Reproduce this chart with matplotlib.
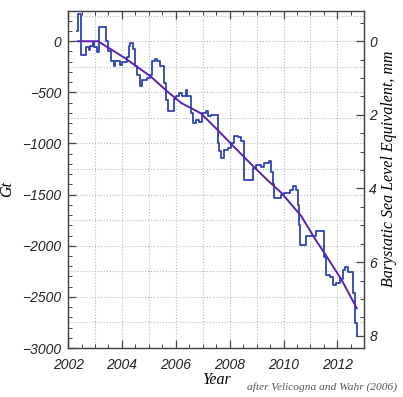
import numpy as np
import matplotlib
matplotlib.use('Agg')
import matplotlib.pyplot as plt
from matplotlib.ticker import MultipleLocator

# GRACE monthly mass change (Gt), step edges
step_x = [2002.34, 2002.35, 2002.49, 2002.67, 2002.76, 2002.82, 2002.92, 2002.98,
          2003.07, 2003.16, 2003.42, 2003.50, 2003.60, 2003.69, 2003.75, 2003.91,
          2004.00, 2004.19, 2004.25, 2004.31, 2004.41, 2004.50, 2004.56, 2004.66,
          2004.75, 2004.94, 2005.05, 2005.12, 2005.21, 2005.31, 2005.43, 2005.56,
          2005.64, 2005.72, 2005.92, 2006.00, 2006.12, 2006.24, 2006.37, 2006.43,
          2006.55, 2006.62, 2006.74, 2006.87, 2006.99, 2007.12, 2007.20, 2007.30,
          2007.57, 2007.62, 2007.67, 2007.80, 2007.92, 2008.05, 2008.17, 2008.30,
          2008.42, 2008.54, 2008.85, 2008.98, 2009.17, 2009.29, 2009.45, 2009.54,
          2009.60, 2009.66, 2009.91, 2010.00, 2010.12, 2010.25, 2010.35, 2010.47,
          2010.53, 2010.59, 2010.62, 2010.84, 2011.22, 2011.50, 2011.59, 2011.71,
          2011.84, 2011.96, 2012.09, 2012.21, 2012.27, 2012.40, 2012.59, 2012.65,
          2012.71]
step_gt = [100, 265, -137, -59, -90, -45, -10, -60,
           -110, 140, 0, -100, -196, -245, -196, -230,
           -200, -150, -49, -20, -80, -245, -326, -434,
           -375, -360, -330, -196, -172, -196, -245, -406,
           -571, -686, -560, -539, -510, -539, -473, -540,
           -700, -800, -770, -790, -701, -686, -734, -718,
           -995, -1077, -1142, -1061, -1045, -995, -924, -940,
           -975, -1354, -1240, -1208, -1225, -1191, -1175, -1275,
           -1400, -1534, -1505, -1480, -1485, -1452, -1420, -1452,
           -1600, -1800, -1991, -1909, -1854, -2106, -2285, -2310,
           -2383, -2366, -2330, -2236, -2203, -2252, -2464, -2760,
           -2885]

# smooth fit (Gt)
fit_x = [2002.35, 2003.10, 2003.60, 2004.10, 2005.06, 2005.68, 2006.20, 2006.93,
         2007.55, 2008.17, 2008.79, 2009.41, 2009.91, 2010.66, 2011.15, 2011.59,
         2012.15, 2012.72]
fit_gt = [0, 0, -80, -163, -343, -490, -604, -705,
          -867, -1035, -1200, -1360, -1480, -1710, -1925, -2100,
          -2330, -2611]

gt_per_mm = 360.0  # Gt of ice per mm of sea level

fig = plt.figure(figsize=(4.03, 3.97), dpi=100)
ax = fig.add_axes([0.169, 0.1234, 0.735, 0.850])

tick_font = dict(family='Liberation Sans', style='italic', size=10)
label_font = dict(family='Liberation Serif', style='italic', size=11.5)

# dotted grid: every year / every 250 Gt
for yr in range(2003, 2013):
    ax.axvline(yr, color='#b8b8b8', ls=':', lw=0.8, zorder=0)
for g in np.arange(-2750, 300, 250):
    ax.axhline(g, color='#b8b8b8', ls=':', lw=0.8, zorder=0)

ax.step(step_x, step_gt, where='post', color='#2f43b3', lw=1.3, zorder=2)
ax.plot(fit_x, fit_gt, color='#5a22b0', lw=1.4, zorder=3)

ax.set_xlim(2002, 2013)
ax.set_ylim(-3000, 300)
ax.xaxis.set_major_locator(MultipleLocator(2))
ax.xaxis.set_minor_locator(MultipleLocator(0.5))
ax.yaxis.set_major_locator(MultipleLocator(500))
ax.yaxis.set_minor_locator(MultipleLocator(100))
ax.tick_params(which='both', direction='in', top=True, right=False,
               color='#444444')
ax.tick_params(which='major', length=6, width=0.9)
ax.tick_params(which='minor', length=3, width=0.7)
ax.tick_params(axis='x', pad=7)
ax.tick_params(axis='y', pad=5)
for lab in ax.get_xticklabels() + ax.get_yticklabels():
    lab.set(**tick_font)
    lab.set_color('#222222')

# right axis: sea level equivalent (mm), inverted
ax2 = ax.twinx()
lo, hi = ax.get_ylim()
ax2.set_ylim(-lo / gt_per_mm, -hi / gt_per_mm)
ax2.yaxis.set_major_locator(MultipleLocator(2))
ax2.yaxis.set_minor_locator(MultipleLocator(0.5))
ax2.tick_params(which='both', direction='in', color='#444444')
ax2.tick_params(which='major', length=6, width=0.9)
ax2.tick_params(which='minor', length=3, width=0.7)
for lab in ax2.get_yticklabels():
    lab.set(**tick_font)
    lab.set_color('#222222')

for a in (ax, ax2):
    for s in a.spines.values():
        s.set_color('#444444')
        s.set_linewidth(0.9)

ax.set_xlabel('Year', labelpad=0, **label_font)
ax.set_ylabel('Gt', **label_font)
ax.yaxis.set_label_coords(-0.18, 0.47)
ax2.set_ylabel('Barystatic Sea Level Equivalent, mm', **label_font)
ax2.yaxis.set_label_coords(1.055, 0.53)

fig.text(0.985, 0.012, 'after Velicogna and Wahr (2006)', ha='right', va='bottom',
         family='Liberation Serif', style='italic', size=8.2, color='#555555')

fig.savefig('out.png', dpi=100)
